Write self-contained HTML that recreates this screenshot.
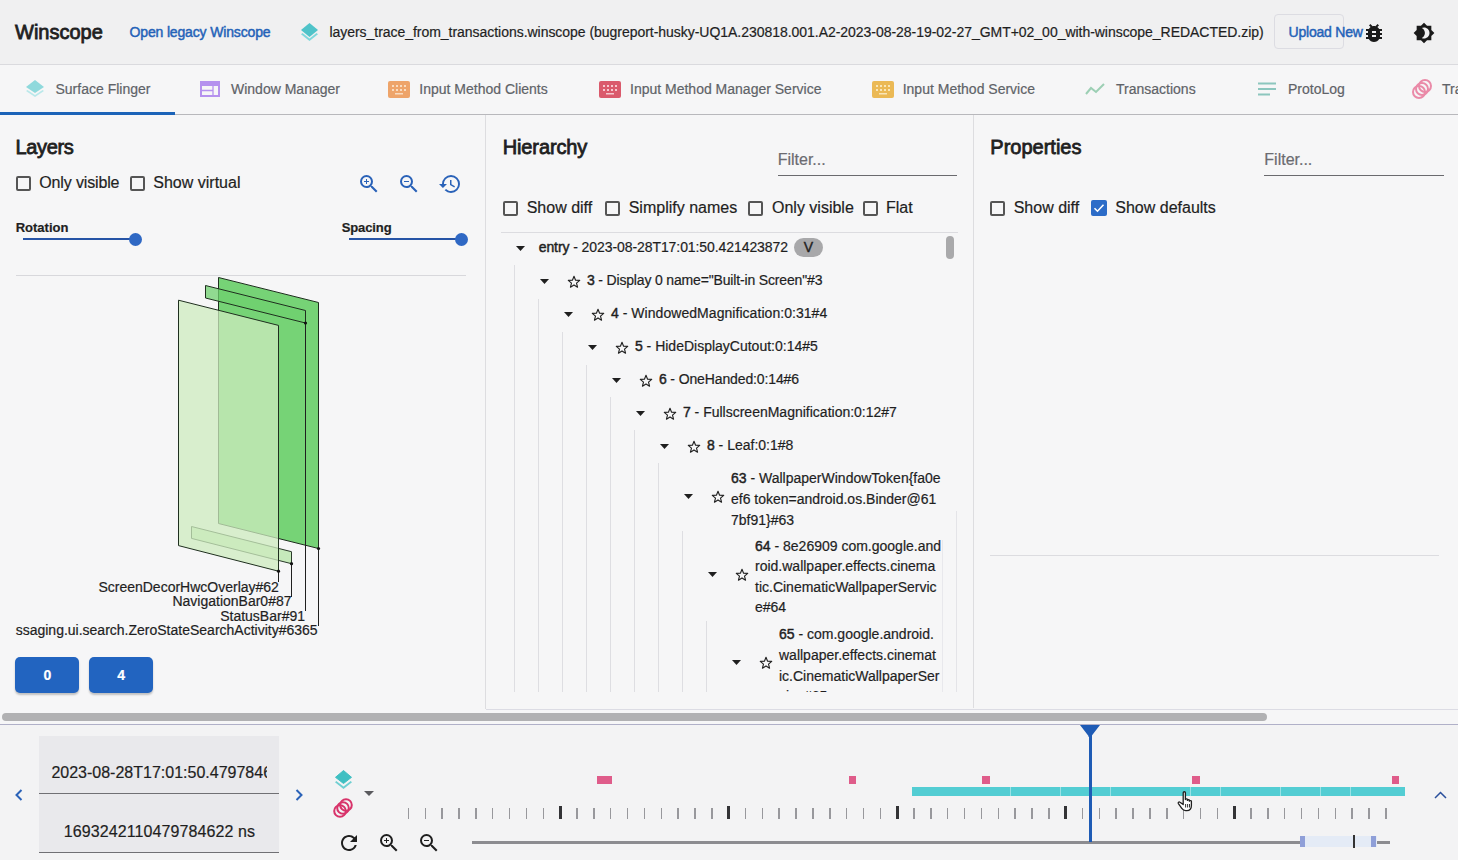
<!DOCTYPE html>
<html><head><meta charset="utf-8">
<style>
*{box-sizing:border-box;margin:0;padding:0}
html,body{width:1458px;height:860px;overflow:hidden;background:#f6f6f7;font-family:"Liberation Sans",sans-serif;color:#202124}
.t{position:absolute;white-space:nowrap;line-height:1;-webkit-text-stroke:0.2px currentColor}
.a{position:absolute}
.med{-webkit-text-stroke:0.35px currentColor}
b{font-weight:normal;-webkit-text-stroke:0.45px currentColor}
.cb{position:absolute;width:15px;height:15px;border:2px solid #555;border-radius:2px}
svg{position:absolute;overflow:visible}
</style></head><body>

<div class="a" style="left:0;top:0;width:1458px;height:65px;background:#f0f0f1"></div>
<div class="a" style="left:0;top:64px;width:1458px;height:1px;background:#dadade"></div>
<div class="a" style="left:0;top:65px;width:1458px;height:50px;background:#f6f6f7"></div>
<div class="a" style="left:0;top:114px;width:1458px;height:1px;background:#b8b8bc"></div>
<div class="a" style="left:0;top:112px;width:175px;height:3px;background:#1b63b8"></div>
<div class="t" style="left:15px;top:21.97px;font-size:20px;color:#1f1f1f;-webkit-text-stroke:0.8px #1f1f1f;">Winscope</div>
<div class="t" style="left:129.5px;top:25.05px;font-size:14px;color:#2462b8;-webkit-text-stroke:0.45px #2462b8;letter-spacing:-0.15px;">Open legacy Winscope</div>
<div class="t" style="left:329.4px;top:25.15px;font-size:14px;color:#1f1f1f;letter-spacing:-0.035px;">layers_trace_from_transactions.winscope (bugreport-husky-UQ1A.230818.001.A2-2023-08-28-19-02-27_GMT+02_00_with-winscope_REDACTED.zip)</div>
<svg style="left:300px;top:22px" width="19" height="19" viewBox="0 0 19 19">
<path d="M9.5 1 L18 8 L9.5 15 L1 8 Z" fill="#4fc3c9"/>
<path d="M2.5 11 L9.5 16.5 L16.5 11 L18 12.3 L9.5 19 L1 12.3 Z" fill="#7fd8dc"/>
</svg>
<div class="a" style="left:1274px;top:14px;width:70px;height:35px;border:1px solid #dcdce2;border-radius:4px"></div>
<div class="t" style="left:1288.5px;top:25.15px;font-size:14px;color:#2462b8;-webkit-text-stroke:0.45px #2462b8;letter-spacing:-0.2px;">Upload New</div>
<svg style="left:1362px;top:21px" width="24" height="24" viewBox="0 0 24 24"><path d="M20 8h-2.81c-.45-.78-1.07-1.45-1.82-1.96L17 4.41 15.590 3l-2.17 2.17C12.96 5.06 12.49 5 12 5c-.49 0-.96.06-1.41.17L8.41 3 7 4.41l1.62 1.63C7.88 6.55 7.26 7.22 6.81 8H4v2h2.09c-.05.33-.09.66-.09 1v1H4v2h2v1c0 .34.04.67.09 1H4v2h2.81c1.04 1.79 2.97 3 5.19 3s4.150-1.21 5.19-3H20v-2h-2.09c.05-.33.09-.66.09-1v-1h2v-2h-2v-1c0-.34-.04-.67-.09-1H20V8zm-6 8h-4v-2h4v2zm0-4h-4v-2h4v2z" fill="#1a1a1a"/></svg>
<svg style="left:1413px;top:22px" width="22" height="22" viewBox="0 0 24 24">
<path d="M20 8.69V4h-4.69L12 .69 8.69 4H4v4.69L.69 12 4 15.31V20h4.69L12 23.31 15.31 20H20v-4.69L23.31 12 20 8.69zM12 18c-.89 0-1.74-.2-2.5-.55C11.56 16.5 13 14.42 13 12s-1.44-4.5-3.5-5.45C10.26 6.2 11.11 6 12 6c3.31 0 6 2.69 6 6s-2.69 6-6 6z" fill="#1a1a1a"/>
</svg>
<div class="t" style="left:55.5px;top:82.25px;font-size:14px;color:#5f6368;-webkit-text-stroke:0.2px #5f6368;">Surface Flinger</div>
<div class="t" style="left:231px;top:82.25px;font-size:14px;color:#5f6368;-webkit-text-stroke:0.2px #5f6368;">Window Manager</div>
<div class="t" style="left:419.3px;top:82.25px;font-size:14px;color:#5f6368;-webkit-text-stroke:0.2px #5f6368;">Input Method Clients</div>
<div class="t" style="left:630px;top:82.25px;font-size:14px;color:#5f6368;-webkit-text-stroke:0.2px #5f6368;">Input Method Manager Service</div>
<div class="t" style="left:902.7px;top:82.25px;font-size:14px;color:#5f6368;-webkit-text-stroke:0.2px #5f6368;">Input Method Service</div>
<div class="t" style="left:1116px;top:82.25px;font-size:14px;color:#5f6368;-webkit-text-stroke:0.2px #5f6368;">Transactions</div>
<div class="t" style="left:1288px;top:82.25px;font-size:14px;color:#5f6368;-webkit-text-stroke:0.2px #5f6368;">ProtoLog</div>
<div class="t" style="left:1442px;top:82.25px;font-size:14px;color:#5f6368;-webkit-text-stroke:0.2px #5f6368;">Transitions</div>
<svg style="left:26px;top:80px" width="18" height="17" viewBox="0 0 18 17">
<path d="M9 0 L18 7 L9 13 L0 7 Z" fill="#8fd9dc"/>
<path d="M1.5 10 L9 15 L16.5 10 L18 11 L9 17 L0 11 Z" fill="#b9e8ea"/></svg>
<svg style="left:200px;top:81px" width="20" height="16" viewBox="0 0 20 16">
<rect x="1" y="1" width="18" height="14" fill="none" stroke="#b591ee" stroke-width="2"/>
<rect x="1" y="1" width="18" height="4" fill="#b591ee"/>
<path d="M2 9.5 H13 M13 5 V15" stroke="#b591ee" stroke-width="1.3"/></svg>
<svg style="left:388px;top:81px" width="22" height="17" viewBox="0 0 22 17">
<rect x="0" y="0" width="22" height="17" rx="2" fill="#eea46a"/>
<g fill="#f9dcc0"><rect x="4" y="4" width="2" height="2"/><rect x="8" y="4" width="2" height="2"/><rect x="12" y="4" width="2" height="2"/><rect x="16" y="4" width="2" height="2"/>
<rect x="4" y="8" width="2" height="2"/><rect x="8" y="8" width="2" height="2"/><rect x="12" y="8" width="2" height="2"/><rect x="16" y="8" width="2" height="2"/>
<rect x="7" y="12" width="8" height="1.5"/></g></svg>
<svg style="left:598.5px;top:81px" width="22" height="17" viewBox="0 0 22 17">
<rect x="0" y="0" width="22" height="17" rx="2" fill="#da5a6c"/>
<g fill="#f6c8cf"><rect x="4" y="4" width="2" height="2"/><rect x="8" y="4" width="2" height="2"/><rect x="12" y="4" width="2" height="2"/><rect x="16" y="4" width="2" height="2"/>
<rect x="4" y="8" width="2" height="2"/><rect x="8" y="8" width="2" height="2"/><rect x="12" y="8" width="2" height="2"/><rect x="16" y="8" width="2" height="2"/>
<rect x="7" y="12" width="8" height="1.5"/></g></svg>
<svg style="left:871.5px;top:81px" width="22" height="17" viewBox="0 0 22 17">
<rect x="0" y="0" width="22" height="17" rx="2" fill="#ebb955"/>
<g fill="#f9e6b8"><rect x="4" y="4" width="2" height="2"/><rect x="8" y="4" width="2" height="2"/><rect x="12" y="4" width="2" height="2"/><rect x="16" y="4" width="2" height="2"/>
<rect x="4" y="8" width="2" height="2"/><rect x="8" y="8" width="2" height="2"/><rect x="12" y="8" width="2" height="2"/><rect x="16" y="8" width="2" height="2"/>
<rect x="7" y="12" width="8" height="1.5"/></g></svg>
<svg style="left:1085px;top:82px" width="21" height="14" viewBox="0 0 21 14">
<path d="M1 12 L6 6 L11 10 L19 2" fill="none" stroke="#9ccfb4" stroke-width="2"/></svg>
<svg style="left:1258px;top:82px" width="20" height="14" viewBox="0 0 20 14">
<path d="M0 1.5 H18 M0 7 H18 M0 12.5 H12" stroke="#8cc6be" stroke-width="2"/></svg>
<svg style="left:1411px;top:79px" width="22" height="20" viewBox="0 0 22 20">
<g fill="none" stroke="#ea8aa8" stroke-width="2"><ellipse cx="8" cy="13" rx="6" ry="6"/><ellipse cx="11" cy="10" rx="6" ry="6"/><ellipse cx="14" cy="7" rx="6" ry="6"/></g></svg>
<div class="a" style="left:485px;top:115px;width:1px;height:594px;background:#dddde0"></div>
<div class="a" style="left:972.5px;top:115px;width:1px;height:593px;background:#dddde0"></div>
<div class="t" style="left:15.5px;top:137.37px;font-size:20px;color:#1f1f1f;-webkit-text-stroke:0.8px #1f1f1f;letter-spacing:-0.35px;">Layers</div>
<div class="cb" style="left:15.5px;top:175.5px"></div>
<div class="t" style="left:39.3px;top:174.76px;font-size:16px;color:#1f1f1f;letter-spacing:-0.15px;">Only visible</div>
<div class="cb" style="left:129.5px;top:175.5px"></div>
<div class="t" style="left:153.3px;top:174.76px;font-size:16px;color:#1f1f1f;">Show virtual</div>
<svg style="left:357px;top:172px" width="24" height="24" viewBox="0 0 24 24"><path d="M15.5 14h-.79l-.28-.27A6.471 6.471 0 0 0 16 9.5 6.5 6.5 0 1 0 9.5 16c1.61 0 3.09-.59 4.230-1.57l.27.28v.79l5 4.99L20.49 19l-4.99-5zm-6 0C7.01 14 5 11.990 5 9.5S7.01 5 9.5 5 14 7.01 14 9.5 11.99 14 9.5 14zm2.5-4h-2v2H9v-2H7V9h2V7h1v2h2v1z" fill="#2a62b8"/></svg>
<svg style="left:397px;top:172px" width="24" height="24" viewBox="0 0 24 24"><path d="M15.5 14h-.79l-.28-.27A6.471 6.471 0 0 0 16 9.5 6.5 6.5 0 1 0 9.5 16c1.61 0 3.09-.59 4.230-1.57l.27.28v.79l5 4.99L20.49 19l-4.99-5zm-6 0C7.01 14 5 11.990 5 9.5S7.01 5 9.5 5 14 7.01 14 9.5 11.99 14 9.5 14zM7 9h5v1H7z" fill="#2a62b8"/></svg>
<svg style="left:437.5px;top:171.5px" width="24" height="24" viewBox="0 0 24 24"><path d="M13 3a9 9 0 0 0-9 9H1l3.89 3.89.07.14L9 12H6c0-3.87 3.13-7 7-7s7 3.13 7 7-3.13 7-7 7c-1.93 0-3.68-.79-4.94-2.06l-1.42 1.42A8.954 8.954 0 0 0 13 21a9 9 0 0 0 0-18zm-1 5v5l4.28 2.54.72-1.21-3.5-2.08V8H12z" fill="#2a62b8"/></svg>
<div class="t" style="left:15.7px;top:221.30px;font-size:13px;color:#1f1f1f;font-weight:bold;">Rotation</div>
<div class="t" style="left:341.7px;top:221.30px;font-size:13px;color:#1f1f1f;font-weight:bold;letter-spacing:-0.1px;">Spacing</div>
<div class="a" style="left:23px;top:238px;width:112px;height:2px;background:#2654a6"></div>
<div class="a" style="left:128.5px;top:232.5px;width:13px;height:13px;border-radius:50%;background:#2f68c4"></div>
<div class="a" style="left:349px;top:238px;width:112px;height:2px;background:#2654a6"></div>
<div class="a" style="left:454.5px;top:232.5px;width:13px;height:13px;border-radius:50%;background:#2f68c4"></div>
<div class="a" style="left:16px;top:275px;width:450px;height:1px;background:#d8d8dc"></div>
<svg style="left:0;top:0" width="486" height="700" viewBox="0 0 486 700">
<polygon points="218.5,277.5 318.5,302.5 318.5,548.5 218.5,523.5" fill="#5fcc5f" fill-opacity="0.85" stroke="#1f2f1f" stroke-width="1"/>
<polygon points="205.5,285.5 305.5,310.5 305.5,323 205.5,298" fill="#6fd06f" fill-opacity="0.75" stroke="#1f2f1f" stroke-width="1"/>
<polygon points="191.5,526.5 291.5,551.7 291.5,563.7 191.5,538.4" fill="#bde8b0" fill-opacity="0.85" stroke="#2a3a2a" stroke-width="1"/>
<polygon points="178.5,300.2 278.5,325.4 278.5,571.2 178.5,545.6" fill="#cdebbf" fill-opacity="0.75" stroke="#1f2f1f" stroke-width="1"/>
<path d="M278.5 571.2 V582 M291.5 563.7 V597 M305.5 323 V611 M318.5 548.5 V626" stroke="#1f1f1f" stroke-width="1" fill="none"/>
<circle cx="278.5" cy="571.2" r="1.6" fill="#111"/><circle cx="291.5" cy="563.7" r="1.6" fill="#111"/><circle cx="305.5" cy="323" r="1.6" fill="#111"/><circle cx="318.5" cy="548.5" r="1.6" fill="#111"/>
</svg>
<div class="t" style="right:1179.1px;top:579.95px;font-size:14px;color:#1f1f1f">ScreenDecorHwcOverlay#62</div>
<div class="t" style="right:1166.5px;top:594.35px;font-size:14px;color:#1f1f1f">NavigationBar0#87</div>
<div class="t" style="right:1153px;top:608.75px;font-size:14px;color:#1f1f1f">StatusBar#91</div>
<div class="t" style="right:1140.4px;top:623.15px;font-size:14px;color:#1f1f1f">ssaging.ui.search.ZeroStateSearchActivity#6365</div>
<div class="a" style="left:15px;top:657px;width:64px;height:36px;border-radius:5px;background:#2264c0;box-shadow:0 2px 2px rgba(0,0,0,0.22)"></div>
<div class="a" style="left:89px;top:657px;width:64px;height:36px;border-radius:5px;background:#2264c0;box-shadow:0 2px 2px rgba(0,0,0,0.22)"></div>
<div class="t" style="left:43.4px;top:667.95px;font-size:14px;color:#ffffff;font-weight:bold;">0</div>
<div class="t" style="left:117.3px;top:667.95px;font-size:14px;color:#ffffff;font-weight:bold;">4</div>
<div class="t" style="left:502.7px;top:137.37px;font-size:20px;color:#1f1f1f;-webkit-text-stroke:0.8px #1f1f1f;letter-spacing:-0.12px;">Hierarchy</div>
<div class="t" style="left:777.7px;top:152.26px;font-size:16px;color:#6b6b70;">Filter...</div>
<div class="a" style="left:777.5px;top:175px;width:179px;height:1px;background:#6a6a6e"></div>
<div class="cb" style="left:502.7px;top:200.5px"></div>
<div class="t" style="left:526.7px;top:199.76px;font-size:16px;color:#1f1f1f;">Show diff</div>
<div class="cb" style="left:605px;top:200.5px"></div>
<div class="t" style="left:628.7px;top:199.76px;font-size:16px;color:#1f1f1f;">Simplify names</div>
<div class="cb" style="left:747.7px;top:200.5px"></div>
<div class="t" style="left:772px;top:199.76px;font-size:16px;color:#1f1f1f;">Only visible</div>
<div class="cb" style="left:862.7px;top:200.5px"></div>
<div class="t" style="left:886px;top:199.76px;font-size:16px;color:#1f1f1f;">Flat</div>
<div class="a" style="left:501px;top:232px;width:457px;height:1px;background:#dcdce0"></div>
<div class="a" style="left:946px;top:236px;width:8px;height:23px;border-radius:4px;background:#a9a9ab"></div>
<svg style="left:515.8px;top:245.5px" width="9" height="5" viewBox="0 0 9 5"><path d="M0 0 H9 L4.5 5 Z" fill="#1f1f1f"/></svg>
<div class="t" style="left:538.7px;top:239.75px;font-size:14px;color:#1f1f1f;letter-spacing:-0.08px;"><b>entry</b> - 2023-08-28T17:01:50.421423872</div>
<div class="a" style="left:794px;top:237.5px;width:29px;height:19px;border-radius:10px;background:#a8a8aa"></div>
<div class="t" style="left:803.8px;top:239.65px;font-size:14px;color:#1f1f1f;-webkit-text-stroke:0.4px #1f1f1f;">V</div>
<svg style="left:539.8px;top:279.0px" width="9" height="5" viewBox="0 0 9 5"><path d="M0 0 H9 L4.5 5 Z" fill="#1f1f1f"/></svg>
<svg style="left:566.5px;top:274.8px" width="14" height="14" viewBox="0 0 24 24"><path d="M12 2.2 L14.7 9 L21.8 9.3 L16.3 13.9 L18.1 20.9 L12 17 L5.9 20.9 L7.7 13.9 L2.2 9.3 L9.3 9 Z" fill="none" stroke="#1f1f1f" stroke-width="1.9" stroke-linejoin="round"/></svg>
<div class="t" style="left:586.9px;top:272.95px;font-size:14px;color:#1f1f1f;letter-spacing:-0.16px;"><b>3</b> - Display 0 name="Built-in Screen"#3</div>
<svg style="left:563.8px;top:312.0px" width="9" height="5" viewBox="0 0 9 5"><path d="M0 0 H9 L4.5 5 Z" fill="#1f1f1f"/></svg>
<svg style="left:590.5px;top:307.8px" width="14" height="14" viewBox="0 0 24 24"><path d="M12 2.2 L14.7 9 L21.8 9.3 L16.3 13.9 L18.1 20.9 L12 17 L5.9 20.9 L7.7 13.9 L2.2 9.3 L9.3 9 Z" fill="none" stroke="#1f1f1f" stroke-width="1.9" stroke-linejoin="round"/></svg>
<div class="t" style="left:610.9px;top:305.95px;font-size:14px;color:#1f1f1f;letter-spacing:0.05px;"><b>4</b> - WindowedMagnification:0:31#4</div>
<svg style="left:587.8px;top:345.0px" width="9" height="5" viewBox="0 0 9 5"><path d="M0 0 H9 L4.5 5 Z" fill="#1f1f1f"/></svg>
<svg style="left:614.5px;top:340.8px" width="14" height="14" viewBox="0 0 24 24"><path d="M12 2.2 L14.7 9 L21.8 9.3 L16.3 13.9 L18.1 20.9 L12 17 L5.9 20.9 L7.7 13.9 L2.2 9.3 L9.3 9 Z" fill="none" stroke="#1f1f1f" stroke-width="1.9" stroke-linejoin="round"/></svg>
<div class="t" style="left:634.9px;top:338.95px;font-size:14px;color:#1f1f1f;"><b>5</b> - HideDisplayCutout:0:14#5</div>
<svg style="left:611.8px;top:378.0px" width="9" height="5" viewBox="0 0 9 5"><path d="M0 0 H9 L4.5 5 Z" fill="#1f1f1f"/></svg>
<svg style="left:638.5px;top:373.8px" width="14" height="14" viewBox="0 0 24 24"><path d="M12 2.2 L14.7 9 L21.8 9.3 L16.3 13.9 L18.1 20.9 L12 17 L5.9 20.9 L7.7 13.9 L2.2 9.3 L9.3 9 Z" fill="none" stroke="#1f1f1f" stroke-width="1.9" stroke-linejoin="round"/></svg>
<div class="t" style="left:658.9px;top:371.95px;font-size:14px;color:#1f1f1f;letter-spacing:-0.12px;"><b>6</b> - OneHanded:0:14#6</div>
<svg style="left:635.8px;top:411.0px" width="9" height="5" viewBox="0 0 9 5"><path d="M0 0 H9 L4.5 5 Z" fill="#1f1f1f"/></svg>
<svg style="left:662.5px;top:406.8px" width="14" height="14" viewBox="0 0 24 24"><path d="M12 2.2 L14.7 9 L21.8 9.3 L16.3 13.9 L18.1 20.9 L12 17 L5.9 20.9 L7.7 13.9 L2.2 9.3 L9.3 9 Z" fill="none" stroke="#1f1f1f" stroke-width="1.9" stroke-linejoin="round"/></svg>
<div class="t" style="left:682.9px;top:404.95px;font-size:14px;color:#1f1f1f;"><b>7</b> - FullscreenMagnification:0:12#7</div>
<svg style="left:659.8px;top:444.0px" width="9" height="5" viewBox="0 0 9 5"><path d="M0 0 H9 L4.5 5 Z" fill="#1f1f1f"/></svg>
<svg style="left:686.5px;top:439.8px" width="14" height="14" viewBox="0 0 24 24"><path d="M12 2.2 L14.7 9 L21.8 9.3 L16.3 13.9 L18.1 20.9 L12 17 L5.9 20.9 L7.7 13.9 L2.2 9.3 L9.3 9 Z" fill="none" stroke="#1f1f1f" stroke-width="1.9" stroke-linejoin="round"/></svg>
<div class="t" style="left:706.9px;top:437.95px;font-size:14px;color:#1f1f1f;"><b>8</b> - Leaf:0:1#8</div>
<svg style="left:683.8px;top:493.8px" width="9" height="5" viewBox="0 0 9 5"><path d="M0 0 H9 L4.5 5 Z" fill="#1f1f1f"/></svg>
<svg style="left:711px;top:490.3px" width="14" height="14" viewBox="0 0 24 24"><path d="M12 2.2 L14.7 9 L21.8 9.3 L16.3 13.9 L18.1 20.9 L12 17 L5.9 20.9 L7.7 13.9 L2.2 9.3 L9.3 9 Z" fill="none" stroke="#1f1f1f" stroke-width="1.9" stroke-linejoin="round"/></svg>
<div class="t" style="left:731px;top:470.95px;font-size:14px;color:#1f1f1f;"><b>63</b> - WallpaperWindowToken{fa0e</div>
<div class="t" style="left:731px;top:491.75px;font-size:14px;color:#1f1f1f;">ef6 token=android.os.Binder@61</div>
<div class="t" style="left:731px;top:512.55px;font-size:14px;color:#1f1f1f;">7bf91}#63</div>
<svg style="left:707.8px;top:571.8px" width="9" height="5" viewBox="0 0 9 5"><path d="M0 0 H9 L4.5 5 Z" fill="#1f1f1f"/></svg>
<svg style="left:735px;top:568.3px" width="14" height="14" viewBox="0 0 24 24"><path d="M12 2.2 L14.7 9 L21.8 9.3 L16.3 13.9 L18.1 20.9 L12 17 L5.9 20.9 L7.7 13.9 L2.2 9.3 L9.3 9 Z" fill="none" stroke="#1f1f1f" stroke-width="1.9" stroke-linejoin="round"/></svg>
<div class="t" style="left:755px;top:538.85px;font-size:14px;color:#1f1f1f;"><b>64</b> - 8e26909 com.google.and</div>
<div class="t" style="left:755px;top:559.35px;font-size:14px;color:#1f1f1f;">roid.wallpaper.effects.cinema</div>
<div class="t" style="left:755px;top:579.85px;font-size:14px;color:#1f1f1f;">tic.CinematicWallpaperServic</div>
<div class="t" style="left:755px;top:600.35px;font-size:14px;color:#1f1f1f;">e#64</div>
<svg style="left:731.8px;top:659.9px" width="9" height="5" viewBox="0 0 9 5"><path d="M0 0 H9 L4.5 5 Z" fill="#1f1f1f"/></svg>
<svg style="left:759px;top:656.4px" width="14" height="14" viewBox="0 0 24 24"><path d="M12 2.2 L14.7 9 L21.8 9.3 L16.3 13.9 L18.1 20.9 L12 17 L5.9 20.9 L7.7 13.9 L2.2 9.3 L9.3 9 Z" fill="none" stroke="#1f1f1f" stroke-width="1.9" stroke-linejoin="round"/></svg>
<div class="t" style="left:779px;top:626.75px;font-size:14px;color:#1f1f1f;"><b>65</b> - com.google.android.</div>
<div class="t" style="left:779px;top:647.65px;font-size:14px;color:#1f1f1f;">wallpaper.effects.cinemat</div>
<div class="t" style="left:779px;top:668.55px;font-size:14px;color:#1f1f1f;">ic.CinematicWallpaperSer</div>
<div class="t" style="left:779px;top:689.45px;font-size:14px;color:#1f1f1f;">vice#65</div>
<div class="a" style="left:487px;top:692px;width:485px;height:17px;background:#f6f6f7"></div>
<div class="a" style="left:514px;top:265px;width:1px;height:427px;background:#dedee2"></div>
<div class="a" style="left:538px;top:299px;width:1px;height:393px;background:#dedee2"></div>
<div class="a" style="left:562px;top:332px;width:1px;height:360px;background:#dedee2"></div>
<div class="a" style="left:586px;top:365px;width:1px;height:327px;background:#dedee2"></div>
<div class="a" style="left:610px;top:397px;width:1px;height:295px;background:#dedee2"></div>
<div class="a" style="left:634px;top:430px;width:1px;height:262px;background:#dedee2"></div>
<div class="a" style="left:658px;top:463px;width:1px;height:229px;background:#dedee2"></div>
<div class="a" style="left:682px;top:531px;width:1px;height:161px;background:#dedee2"></div>
<div class="a" style="left:706px;top:621px;width:1px;height:71px;background:#dedee2"></div>
<div class="a" style="left:956px;top:511px;width:1px;height:181px;background:#e4e4e8"></div>
<div class="a" style="left:942px;top:540px;width:1px;height:152px;background:#e8e8ec"></div>
<div class="a" style="left:486px;top:709px;width:972px;height:1px;background:#dcdce4"></div>
<div class="t" style="left:990.3px;top:137.37px;font-size:20px;color:#1f1f1f;-webkit-text-stroke:0.8px #1f1f1f;">Properties</div>
<div class="t" style="left:1264.3px;top:152.26px;font-size:16px;color:#6b6b70;">Filter...</div>
<div class="a" style="left:1264px;top:175px;width:180px;height:1px;background:#6a6a6e"></div>
<div class="cb" style="left:990.3px;top:200.5px"></div>
<div class="t" style="left:1013.7px;top:199.76px;font-size:16px;color:#1f1f1f;">Show diff</div>
<div class="a" style="left:1091px;top:200px;width:16px;height:16px;border-radius:2px;background:#2c6cc8"></div>
<svg style="left:1091px;top:200px" width="16" height="16" viewBox="0 0 16 16"><path d="M3.5 8.2 L6.5 11.2 L12.5 4.8" fill="none" stroke="#fff" stroke-width="1.6"/></svg>
<div class="t" style="left:1115.3px;top:199.76px;font-size:16px;color:#1f1f1f;">Show defaults</div>
<div class="a" style="left:990px;top:555px;width:449px;height:1px;background:#dcdce0"></div>
<div class="a" style="left:2px;top:713px;width:1265px;height:8px;border-radius:4px;background:#b1b1b3"></div>
<div class="a" style="left:0;top:724px;width:1458px;height:1px;background:#b0b0c8"></div>
<div class="a" style="left:0;top:725px;width:1458px;height:135px;background:#f3f3f4"></div>
<div class="a" style="left:39px;top:736px;width:240px;height:57px;background:#e9e9ec"></div>
<div class="a" style="left:39px;top:794px;width:240px;height:58px;background:#e9e9ec"></div>
<div class="a" style="left:39px;top:792.5px;width:240px;height:1px;background:#707074"></div>
<div class="a" style="left:39px;top:851.5px;width:240px;height:1px;background:#707074"></div>
<div class="a" style="left:51.4px;top:762px;width:216px;height:20px;overflow:hidden">
<div class="t" style="left:0;top:2.56px;font-size:16px;color:#1f1f1f">2023-08-28T17:01:50.479784622</div>
</div>
<div class="t" style="left:63.8px;top:823.56px;font-size:16px;color:#1f1f1f;letter-spacing:0.1px;">1693242110479784622 ns</div>
<svg style="left:15px;top:789px" width="8" height="12" viewBox="0 0 8 12"><path d="M6.5 1 L1.5 6 L6.5 11" fill="none" stroke="#2a62b8" stroke-width="2"/></svg>
<svg style="left:295px;top:789px" width="8" height="12" viewBox="0 0 8 12"><path d="M1.5 1 L6.5 6 L1.5 11" fill="none" stroke="#2a62b8" stroke-width="2"/></svg>
<svg style="left:335px;top:770px" width="17" height="19" viewBox="0 0 17 19">
<path d="M8.5 0.5 L16.5 7.3 L8.5 13.5 L0.5 7.3 Z" fill="#3fbfc2" stroke="#3fbfc2" stroke-width="1" stroke-linejoin="round"/>
<path d="M1.3 11 L8.5 16.6 L15.7 11 L17 12.2 L8.5 19 L0 12.2 Z" fill="#6fcfd2"/></svg>
<svg style="left:364px;top:791px" width="10" height="5" viewBox="0 0 10 5"><path d="M0 0 H10 L5 5 Z" fill="#5a5a5e"/></svg>
<svg style="left:333px;top:798px" width="20" height="20" viewBox="0 0 20 20">
<g fill="none" stroke="#d8336a" stroke-width="2"><circle cx="7" cy="13" r="5.8"/><circle cx="10" cy="10" r="5.8"/><circle cx="13" cy="7" r="5.8"/></g></svg>
<svg style="left:341px;top:835px" width="16" height="16" viewBox="4 4 16 16">
<path d="M17.65 6.35A7.958 7.958 0 0 0 12 4c-4.42 0-7.99 3.58-7.99 8s3.57 8 7.99 8c3.73 0 6.84-2.55 7.73-6h-2.08A5.99 5.99 0 0 1 12 18c-3.31 0-6-2.69-6-6s2.69-6 6-6c1.66 0 3.14.69 4.22 1.78L13 11h7V4l-2.35 2.35z" fill="#1f1f1f"/></svg>
<svg style="left:377px;top:831.3px" width="24" height="24" viewBox="0 0 24 24"><path d="M15.5 14h-.79l-.28-.27A6.471 6.471 0 0 0 16 9.5 6.5 6.5 0 1 0 9.5 16c1.61 0 3.09-.59 4.230-1.57l.27.28v.79l5 4.99L20.49 19l-4.99-5zm-6 0C7.01 14 5 11.990 5 9.5S7.01 5 9.5 5 14 7.01 14 9.5 11.99 14 9.5 14zm2.5-4h-2v2H9v-2H7V9h2V7h1v2h2v1z" fill="#1f1f1f"/></svg>
<svg style="left:417px;top:831.3px" width="24" height="24" viewBox="0 0 24 24"><path d="M15.5 14h-.79l-.28-.27A6.471 6.471 0 0 0 16 9.5 6.5 6.5 0 1 0 9.5 16c1.61 0 3.09-.59 4.230-1.57l.27.28v.79l5 4.99L20.49 19l-4.99-5zm-6 0C7.01 14 5 11.990 5 9.5S7.01 5 9.5 5 14 7.01 14 9.5 11.99 14 9.5 14zM7 9h5v1H7z" fill="#1f1f1f"/></svg>
<div class="a" style="left:407.7px;top:807.5px;width:1.6px;height:11px;background:#98989c"></div>
<div class="a" style="left:424.6px;top:807.5px;width:1.6px;height:11px;background:#98989c"></div>
<div class="a" style="left:441.4px;top:807.5px;width:1.6px;height:11px;background:#98989c"></div>
<div class="a" style="left:458.2px;top:807.5px;width:1.6px;height:11px;background:#98989c"></div>
<div class="a" style="left:475.1px;top:807.5px;width:1.6px;height:11px;background:#98989c"></div>
<div class="a" style="left:491.9px;top:807.5px;width:1.6px;height:11px;background:#98989c"></div>
<div class="a" style="left:508.8px;top:807.5px;width:1.6px;height:11px;background:#98989c"></div>
<div class="a" style="left:525.7px;top:807.5px;width:1.6px;height:11px;background:#98989c"></div>
<div class="a" style="left:542.5px;top:807.5px;width:1.6px;height:11px;background:#98989c"></div>
<div class="a" style="left:558.8px;top:805.5px;width:2.8px;height:13px;background:#333336"></div>
<div class="a" style="left:576.2px;top:807.5px;width:1.6px;height:11px;background:#98989c"></div>
<div class="a" style="left:593.1px;top:807.5px;width:1.6px;height:11px;background:#98989c"></div>
<div class="a" style="left:609.9px;top:807.5px;width:1.6px;height:11px;background:#98989c"></div>
<div class="a" style="left:626.8px;top:807.5px;width:1.6px;height:11px;background:#98989c"></div>
<div class="a" style="left:643.6px;top:807.5px;width:1.6px;height:11px;background:#98989c"></div>
<div class="a" style="left:660.5px;top:807.5px;width:1.6px;height:11px;background:#98989c"></div>
<div class="a" style="left:677.3px;top:807.5px;width:1.6px;height:11px;background:#98989c"></div>
<div class="a" style="left:694.2px;top:807.5px;width:1.6px;height:11px;background:#98989c"></div>
<div class="a" style="left:711.0px;top:807.5px;width:1.6px;height:11px;background:#98989c"></div>
<div class="a" style="left:727.3px;top:805.5px;width:2.8px;height:13px;background:#333336"></div>
<div class="a" style="left:744.7px;top:807.5px;width:1.6px;height:11px;background:#98989c"></div>
<div class="a" style="left:761.6px;top:807.5px;width:1.6px;height:11px;background:#98989c"></div>
<div class="a" style="left:778.4px;top:807.5px;width:1.6px;height:11px;background:#98989c"></div>
<div class="a" style="left:795.2px;top:807.5px;width:1.6px;height:11px;background:#98989c"></div>
<div class="a" style="left:812.1px;top:807.5px;width:1.6px;height:11px;background:#98989c"></div>
<div class="a" style="left:829.0px;top:807.5px;width:1.6px;height:11px;background:#98989c"></div>
<div class="a" style="left:845.8px;top:807.5px;width:1.6px;height:11px;background:#98989c"></div>
<div class="a" style="left:862.7px;top:807.5px;width:1.6px;height:11px;background:#98989c"></div>
<div class="a" style="left:879.5px;top:807.5px;width:1.6px;height:11px;background:#98989c"></div>
<div class="a" style="left:895.8px;top:805.5px;width:2.8px;height:13px;background:#333336"></div>
<div class="a" style="left:913.2px;top:807.5px;width:1.6px;height:11px;background:#98989c"></div>
<div class="a" style="left:930.1px;top:807.5px;width:1.6px;height:11px;background:#98989c"></div>
<div class="a" style="left:946.9px;top:807.5px;width:1.6px;height:11px;background:#98989c"></div>
<div class="a" style="left:963.8px;top:807.5px;width:1.6px;height:11px;background:#98989c"></div>
<div class="a" style="left:980.6px;top:807.5px;width:1.6px;height:11px;background:#98989c"></div>
<div class="a" style="left:997.5px;top:807.5px;width:1.6px;height:11px;background:#98989c"></div>
<div class="a" style="left:1014.3px;top:807.5px;width:1.6px;height:11px;background:#98989c"></div>
<div class="a" style="left:1031.2px;top:807.5px;width:1.6px;height:11px;background:#98989c"></div>
<div class="a" style="left:1048.0px;top:807.5px;width:1.6px;height:11px;background:#98989c"></div>
<div class="a" style="left:1064.2px;top:805.5px;width:2.8px;height:13px;background:#333336"></div>
<div class="a" style="left:1081.7px;top:807.5px;width:1.6px;height:11px;background:#98989c"></div>
<div class="a" style="left:1098.5px;top:807.5px;width:1.6px;height:11px;background:#98989c"></div>
<div class="a" style="left:1115.4px;top:807.5px;width:1.6px;height:11px;background:#98989c"></div>
<div class="a" style="left:1132.3px;top:807.5px;width:1.6px;height:11px;background:#98989c"></div>
<div class="a" style="left:1149.1px;top:807.5px;width:1.6px;height:11px;background:#98989c"></div>
<div class="a" style="left:1166.0px;top:807.5px;width:1.6px;height:11px;background:#98989c"></div>
<div class="a" style="left:1182.8px;top:807.5px;width:1.6px;height:11px;background:#98989c"></div>
<div class="a" style="left:1199.7px;top:807.5px;width:1.6px;height:11px;background:#98989c"></div>
<div class="a" style="left:1216.5px;top:807.5px;width:1.6px;height:11px;background:#98989c"></div>
<div class="a" style="left:1232.8px;top:805.5px;width:2.8px;height:13px;background:#333336"></div>
<div class="a" style="left:1250.2px;top:807.5px;width:1.6px;height:11px;background:#98989c"></div>
<div class="a" style="left:1267.0px;top:807.5px;width:1.6px;height:11px;background:#98989c"></div>
<div class="a" style="left:1283.9px;top:807.5px;width:1.6px;height:11px;background:#98989c"></div>
<div class="a" style="left:1300.8px;top:807.5px;width:1.6px;height:11px;background:#98989c"></div>
<div class="a" style="left:1317.6px;top:807.5px;width:1.6px;height:11px;background:#98989c"></div>
<div class="a" style="left:1334.5px;top:807.5px;width:1.6px;height:11px;background:#98989c"></div>
<div class="a" style="left:1351.3px;top:807.5px;width:1.6px;height:11px;background:#98989c"></div>
<div class="a" style="left:1368.2px;top:807.5px;width:1.6px;height:11px;background:#98989c"></div>
<div class="a" style="left:1385.0px;top:807.5px;width:1.6px;height:11px;background:#98989c"></div>
<div class="a" style="left:597.4px;top:776px;width:7.5px;height:7.5px;background:#df5c8a"></div>
<div class="a" style="left:604px;top:776px;width:7.5px;height:7.5px;background:#df5c8a"></div>
<div class="a" style="left:848.5px;top:776px;width:7.5px;height:7.5px;background:#df5c8a"></div>
<div class="a" style="left:982.3px;top:776px;width:7.5px;height:7.5px;background:#df5c8a"></div>
<div class="a" style="left:1192px;top:776px;width:7.5px;height:7.5px;background:#df5c8a"></div>
<div class="a" style="left:1391.8px;top:776px;width:7.5px;height:7.5px;background:#df5c8a"></div>
<div class="a" style="left:912px;top:786.5px;width:493px;height:9px;background:#53cdd3"></div>
<div class="a" style="left:1010px;top:786.5px;width:1px;height:9px;background:#9ae2e5"></div>
<div class="a" style="left:1060px;top:786.5px;width:1px;height:9px;background:#9ae2e5"></div>
<div class="a" style="left:1110px;top:786.5px;width:1px;height:9px;background:#9ae2e5"></div>
<div class="a" style="left:1190px;top:786.5px;width:1px;height:9px;background:#9ae2e5"></div>
<div class="a" style="left:1220px;top:786.5px;width:1px;height:9px;background:#9ae2e5"></div>
<div class="a" style="left:1280px;top:786.5px;width:1px;height:9px;background:#9ae2e5"></div>
<div class="a" style="left:1320px;top:786.5px;width:1px;height:9px;background:#9ae2e5"></div>
<div class="a" style="left:1350px;top:786.5px;width:1px;height:9px;background:#9ae2e5"></div>
<div class="a" style="left:472px;top:841px;width:918px;height:2.5px;background:#8c8c90"></div>
<div class="a" style="left:1300px;top:836px;width:77px;height:11px;background:#e4ebf6"></div>
<div class="a" style="left:1300px;top:836px;width:5px;height:11px;background:#8f9fd8"></div>
<div class="a" style="left:1371px;top:836px;width:5px;height:11px;background:#8f9fd8"></div>
<div class="a" style="left:1352.5px;top:835px;width:2px;height:13px;background:#333"></div>
<div class="a" style="left:1088.5px;top:735px;width:3px;height:107px;background:#1e5bb5"></div>
<svg style="left:1080px;top:725px" width="20" height="12" viewBox="0 0 20 12"><path d="M0 0 H20 L11.5 11 V12 H8.5 V11 Z" fill="#1e5bb5"/></svg>
<svg style="left:1434px;top:791px" width="13" height="8" viewBox="0 0 13 8"><path d="M1 7 L6.5 1.5 L12 7" fill="none" stroke="#2a4f9c" stroke-width="1.5"/></svg>
<svg style="left:1177px;top:791px" width="18" height="21" viewBox="0 0 18 21">
<path d="M6.2 1.8 C6.2 0.4 8.4 0.4 8.4 1.8 V8.6 C8.4 7.6 10.4 7.6 10.4 8.6 V9.4 C10.4 8.5 12.4 8.5 12.4 9.4 V10.2 C12.4 9.3 14.4 9.3 14.4 10.2 V14.5 C14.4 17.6 12.6 19.6 9.8 19.6 H8.6 C6.8 19.6 5.8 18.8 4.8 17.4 L1.4 12.6 C0.7 11.5 2 10.4 3 11.2 L6.2 13.6 Z" fill="#fff" stroke="#1f1f1f" stroke-width="1.3" stroke-linejoin="round"/>
<path d="M8.6 13 V16.5 M10.6 13 V16.5 M12.5 13 V16.5" stroke="#1f1f1f" stroke-width="0.9"/></svg>
</body></html>
